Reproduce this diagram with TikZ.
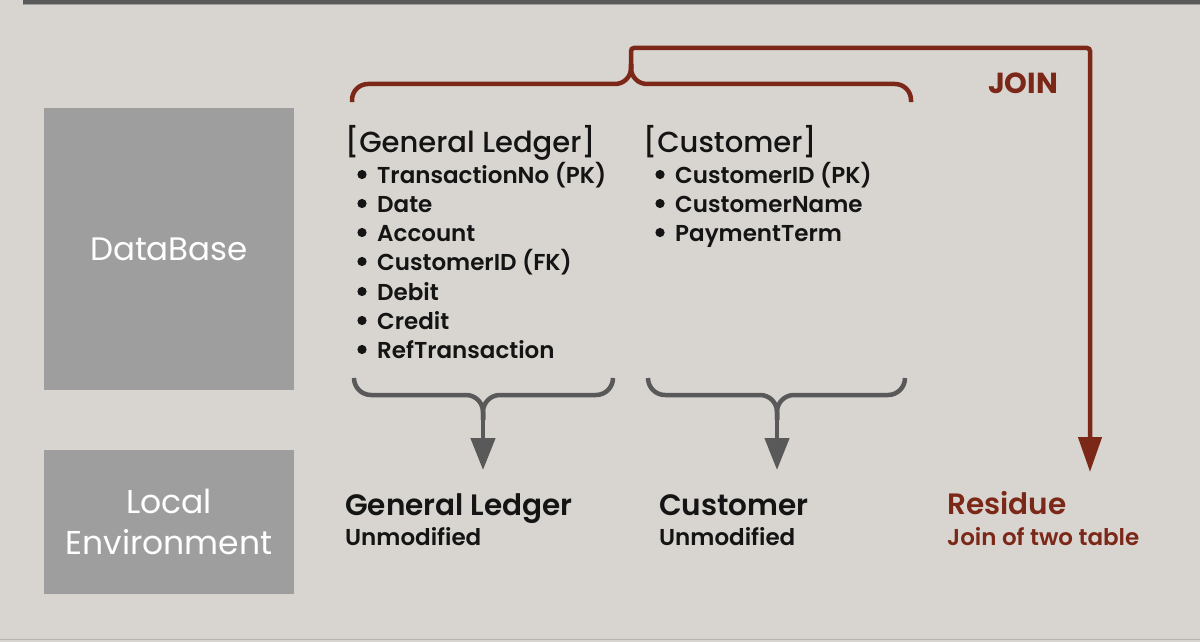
\documentclass[tikz,border=0pt]{standalone}
\usepackage{fontspec}
\setmainfont{Poppins}
\newfontfamily\pmed{Poppins Medium}
\newfontfamily\psemi{Poppins SemiBold}
\usetikzlibrary{arrows.meta}
\definecolor{bg}{HTML}{D8D5D0}
\definecolor{bar}{HTML}{5A5A5A}
\definecolor{barlight}{HTML}{A09E9B}
\definecolor{boxg}{HTML}{9E9E9E}
\definecolor{jred}{HTML}{7C2818}
\definecolor{conn}{HTML}{595959}
\definecolor{ink}{HTML}{141414}
\tikzset{
  graybox/.style={fill=boxg, draw=none, text=white, inner sep=0pt, align=center},
  redline/.style={draw=jred, line width=4.5pt},
  grayline/.style={draw=conn, line width=4.5pt},
  txt/.style={anchor=base west, inner sep=0pt, text=ink},
  heading/.style={txt, text height=21pt, text depth=5pt, font=\pmed\fontsize{29}{34}\selectfont},
  item/.style={txt, text height=17pt, text depth=5pt, font=\psemi\fontsize{23}{27}\selectfont},
  ltitle/.style={txt, text height=21pt, text depth=5pt, font=\psemi\fontsize{29.5}{33}\selectfont},
  lsub/.style={txt, text height=17pt, text depth=5pt, font=\psemi\fontsize{23}{27}\selectfont},
  bulletdot/.style={fill=ink},
}
\begin{document}
\begin{tikzpicture}[x=1pt,y=-1pt]
\fill[bg] (0,0) rectangle (1200,642);
\useasboundingbox (0,0) rectangle (1200,642);
\fill[bar] (23,0) rectangle (1200,4);
\fill[barlight] (23,4) rectangle (1200,5);
\fill[barlight!60!bg] (0,639) rectangle (1200,640);

% left boxes
\node[graybox, minimum width=250pt, minimum height=282pt, font=\fontsize{32.5}{38}\selectfont] (db) at (169,249) {DataBase};
\node[graybox, minimum width=250pt, minimum height=144pt, font=\fontsize{33}{41}\selectfont] (le) at (169,522) {Local\\Environment};

% General Ledger table
\node[heading] (glh) at (345,152) {[General Ledger]};
\node[item] (gl1) at (377,183) {TransactionNo (PK)};
\node[item] (gl2) at (377,212) {Date};
\node[item] (gl3) at (377,241) {Account};
\node[item] (gl4) at (377,270) {CustomerID (FK)};
\node[item] (gl5) at (377,300) {Debit};
\node[item] (gl6) at (377,329) {Credit};
\node[item] (gl7) at (377,358) {RefTransaction};
\foreach \y in {183,212,241,270,300,329,358}
  \fill[bulletdot] (362,\y-8.5) circle (4.6pt);

% Customer table
\node[heading] (cuh) at (643,152) {[Customer]};
\node[item] (cu1) at (675,183) {CustomerID (PK)};
\node[item] (cu2) at (675,212) {CustomerName};
\node[item] (cu3) at (675,241) {PaymentTerm};
\foreach \y in {183,212,241}
  \fill[bulletdot] (660,\y-8.5) circle (4.6pt);

% JOIN label
\node[anchor=base, inner sep=0pt, text=jred, font=\bfseries\fontsize{29}{32}\selectfont] (join) at (1023,93) {JOIN};

% bottom results
\node[ltitle] (glr) at (345,515) {General Ledger};
\node[lsub] (glu) at (345,545) {Unmodified};
\node[ltitle] (cur) at (659,515) {Customer};
\node[lsub] (cuu) at (659,545) {Unmodified};
\node[ltitle, text=jred] (res) at (947,514) {Residue};
\node[lsub, text=jred] (resu) at (947,545) {Join of two table};

% red brace and join arrow
\coordinate (rbl) at (352,102);
\coordinate (rbr) at (911,102);
\coordinate (rcl) at (352,84);
\coordinate (rcr) at (911,84);
\coordinate (rmid) at (631,84);
\coordinate (rtop) at (631,48);
\coordinate (rcorner) at (1090,48);
\coordinate (rend) at (1090,472);
\draw[redline, rounded corners=16pt] (rbl) -- (rcl) -- (rmid) -- (631,64);
\draw[redline, rounded corners=16pt] (rbr) -- (rcr) -- (rmid) -- (631,64);
\draw[redline, rounded corners=3pt, -{Triangle[length=35pt,width=23pt]}] (631,70) -- (rtop) -- (rcorner) -- (rend);

% gray brace 1
\coordinate (g1l) at (354,378);
\coordinate (g1r) at (613,378);
\coordinate (g1m) at (483,395);
\coordinate (g1end) at (483,470);
\draw[grayline, rounded corners=17pt] (g1l) -- (354,395) -- (g1m) -- (483,420);
\draw[grayline, rounded corners=17pt] (g1r) -- (613,395) -- (g1m) -- (483,420);
\draw[grayline, -{Triangle[length=32pt,width=24pt]}] (483,415) -- (g1end);

% gray brace 2
\coordinate (g2l) at (648,378);
\coordinate (g2r) at (905,378);
\coordinate (g2m) at (777,395);
\coordinate (g2end) at (777,470);
\draw[grayline, rounded corners=17pt] (g2l) -- (648,395) -- (g2m) -- (777,420);
\draw[grayline, rounded corners=17pt] (g2r) -- (905,395) -- (g2m) -- (777,420);
\draw[grayline, -{Triangle[length=32pt,width=24pt]}] (777,415) -- (g2end);
\end{tikzpicture}
\end{document}
